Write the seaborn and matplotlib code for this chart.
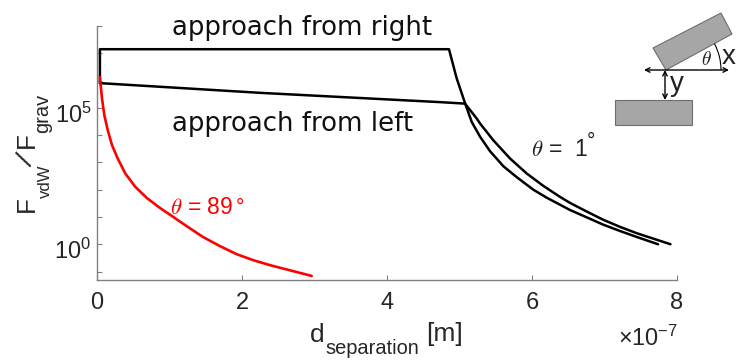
import seaborn as sns
import matplotlib.pyplot as plt
from matplotlib.patches import Polygon, Rectangle, Arc
from matplotlib.transforms import ScaledTranslation

# separation in units of 1e-7 m
x_right = [0.04, 0.04, 4.855, 4.96, 5.076, 5.168, 5.283, 5.421, 5.604, 5.789, 6.018, 6.203, 6.524, 6.759, 6.983, 7.214, 7.444, 7.738]
y_right = [8.05e5, 1.41e7, 1.41e7, 1.23e6, 1.49e5, 3.07e4, 8.8e3, 2.58e3, 728, 288, 100, 50.9, 18.0, 9.57, 5.21, 3.06, 1.85, 1.0]

x_left = [0.04, 2.248, 4.73, 5.076, 5.237, 5.283, 5.466, 5.697, 5.927, 6.156, 6.386, 6.524, 6.759, 6.983, 7.214, 7.444, 7.91]
y_left = [8.05e5, 3.55e5, 1.62e5, 1.43e5, 4.08e4, 2.68e4, 6.5e3, 1.39e3, 393, 138, 54.5, 32.8, 15.6, 7.88, 4.33, 2.54, 1.0]

x_red = [0.04, 0.046, 0.069, 0.101, 0.148, 0.207, 0.286, 0.39, 0.528, 0.69, 0.873, 1.007, 1.237, 1.466, 1.697, 1.927, 2.156, 2.386, 2.617, 2.961]
y_red = [1.34e6, 8.97e5, 2.21e5, 5.4e4, 1.52e4, 4.29e3, 1.39e3, 393, 127, 48.9, 21, 12.1, 4.59, 1.82, 0.85, 0.431, 0.26, 0.171, 0.119, 0.069]

x_ticks = [0, 2, 4, 6, 8]
y_ticks = [1e-1, 1e0, 1e1, 1e2, 1e3, 1e4, 1e5, 1e6, 1e7, 1e8]

sns.set_theme(style='ticks')
plt.rcParams['font.family'] = ['Liberation Sans', 'DejaVu Sans']
plt.rcParams['mathtext.fontset'] = 'cm'

W, H = 747, 360
fig = plt.figure(figsize=(W / 100, H / 100), dpi=100)
ax = fig.add_axes([97 / W, 1 - 279.5 / H, 580 / W, 253.5 / H])

sns.lineplot(x=x_right, y=y_right, sort=False, estimator=None, color='black', linewidth=1.8, ax=ax)
sns.lineplot(x=x_left, y=y_left, sort=False, estimator=None, color='black', linewidth=1.8, ax=ax)
sns.lineplot(x=x_red, y=y_red, sort=False, estimator=None, color='red', linewidth=1.9, ax=ax)

ax.set_yscale('log')
ax.set_xlim(0, 8)
ax.set_ylim(0.051, 1e8)
ax.set_xticks(x_ticks)
ax.set_yticks(y_ticks)
ax.minorticks_off()
ax.set_yticklabels(['$\\mathregular{10^{0}}$' if t == 1 else '$\\mathregular{10^{5}}$' if t == 1e5 else '' for t in y_ticks])
ax.tick_params(direction='in', length=3.5, width=0.8, color='#808080', labelcolor='#262626', labelsize=17, pad=4)
ax.tick_params(axis='x', pad=9)
shift = ScaledTranslation(0, -0.045, fig.dpi_scale_trans)
for lab in ax.get_yticklabels():
    lab.set_transform(lab.get_transform() + shift)
sns.despine(ax=ax)
for s in ['left', 'bottom']:
    ax.spines[s].set_color('#808080')
    ax.spines[s].set_linewidth(1.0)

# overlay in pixel coordinates for the annotations and sketch
ov = fig.add_axes([0, 0, 1, 1], zorder=5)
ov.set_xlim(0, W)
ov.set_ylim(H, 0)
ov.axis('off')
ov.patch.set_alpha(0)

ov.text(172, 28, 'approach from right', family='DejaVu Sans', fontsize=18.7, color='#111111', va='center', ha='left')
ov.text(172, 124, 'approach from left', family='DejaVu Sans', fontsize=18.7, color='#111111', va='center', ha='left')

ov.text(531, 150, r'$\theta$ =  1', fontsize=16.5, color='#222222', va='center', ha='left')
ov.text(587, 141, '°', fontsize=15, color='#222222', va='center', ha='left')
ov.text(170, 208, r'$\theta$ = 89', fontsize=16.5, color='red', va='center', ha='left')
ov.text(236, 207, '°', fontsize=15, color='red', va='center', ha='left')

# y label, piece by piece so the subscripts sit as in the original
ylab = dict(color='#262626', rotation=90, rotation_mode='anchor', ha='left', va='baseline')
ov.text(34.3, 212, 'F', fontsize=18.7, **ylab)
ov.text(50, 198, 'vdW', fontsize=12, **ylab)
ov.text(26.5, 160, '/', fontsize=20, color='#262626', rotation=62, rotation_mode='anchor', ha='center', va='center')
ov.text(34.3, 148, 'F', fontsize=18.7, **ylab)
ov.text(48.3, 133, 'grav', fontsize=14.4, **ylab)

# x label
ov.text(310, 341.5, 'd', fontsize=19, color='#262626', va='baseline', ha='left')
ov.text(325, 354, 'separation', fontsize=14.4, color='#262626', va='baseline', ha='left')
ov.text(426, 341.5, '[m]', fontsize=19, color='#262626', va='baseline', ha='left')
ov.text(618, 346, '×$\\mathregular{10^{-7}}$', fontsize=16.8, color='#262626', va='baseline', ha='left')

# sketch of the two plates
ov.add_patch(Polygon([(653, 48), (721, 13), (732, 34), (666, 70)], closed=True, facecolor='#a6a6a6', edgecolor='#6e6e6e', linewidth=0.8))
ov.add_patch(Rectangle((615, 100), 77, 25, facecolor='#a6a6a6', edgecolor='#6e6e6e', linewidth=0.8))
ov.annotate('', xy=(644, 70), xytext=(729, 70), arrowprops=dict(arrowstyle='<->', color='black', lw=1.0, shrinkA=0, shrinkB=0, mutation_scale=8))
ov.annotate('', xy=(665, 70), xytext=(665, 100), arrowprops=dict(arrowstyle='<->', color='black', lw=1.0, shrinkA=0, shrinkB=0, mutation_scale=8))
ov.add_patch(Arc((665, 70), 112, 112, theta1=-28, theta2=0, color='black', linewidth=0.8))
ov.text(706, 60, r'$\theta$', fontsize=14, color='#222222', va='center', ha='center')
ov.text(729, 57, 'x', fontsize=20, color='#222222', va='center', ha='center')
ov.text(677, 84, 'y', fontsize=20, color='#222222', va='center', ha='center')

fig.savefig('out.png', dpi=100)
